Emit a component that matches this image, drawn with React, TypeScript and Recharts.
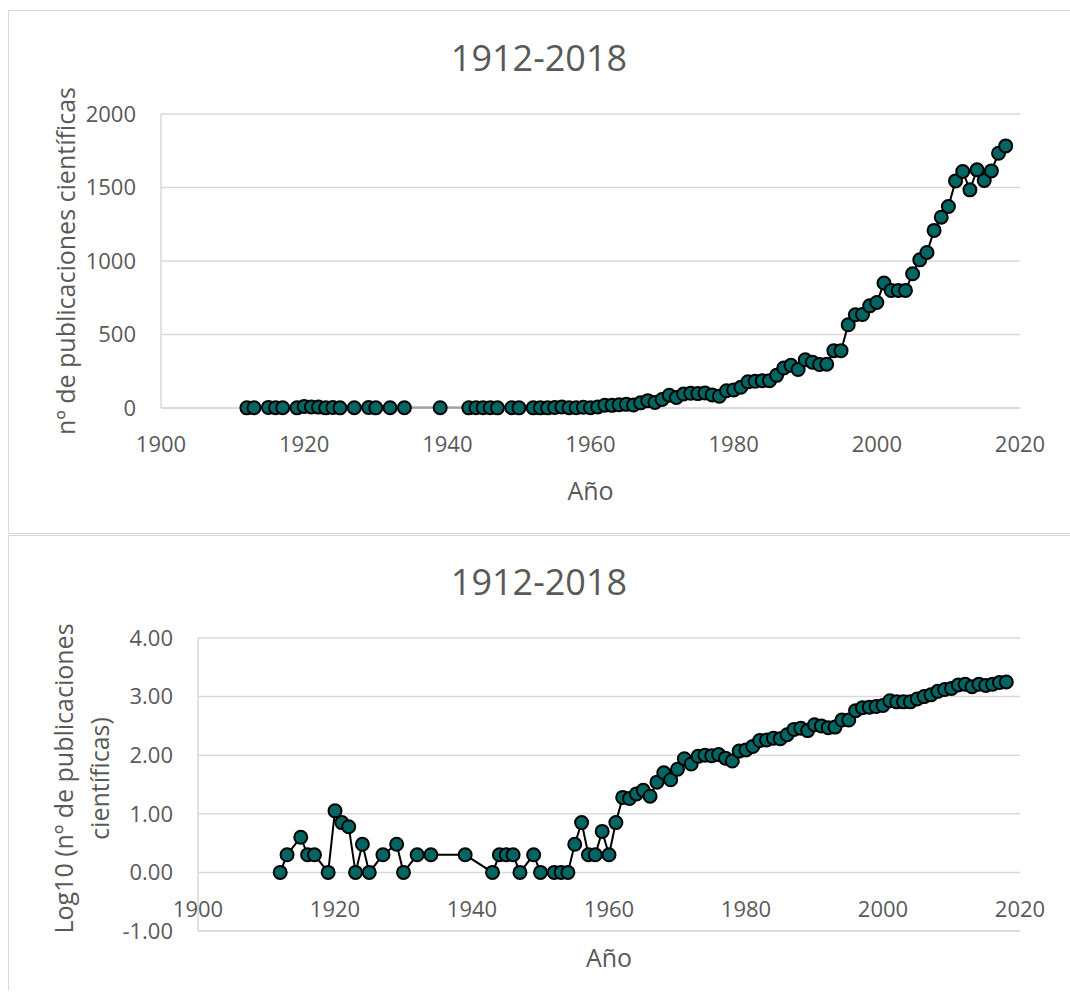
import React, { useLayoutEffect } from 'react';
import { LineChart, Line, XAxis, YAxis, CartesianGrid, Label } from 'recharts';

// años con publicaciones (1951 y huecos de los años 30 no tienen dato)
const years = [
  1912, 1913, 1915, 1916, 1917, 1919, 1920, 1921, 1922, 1923, 1924, 1925, 1927, 1929, 1930,
  1932, 1934, 1939, 1943, 1944, 1945, 1946, 1947, 1949, 1950, 1952, 1953, 1954, 1955, 1956,
  1957, 1958, 1959, 1960, 1961, 1962, 1963, 1964, 1965, 1966, 1967, 1968, 1969, 1970, 1971,
  1972, 1973, 1974, 1975, 1976, 1977, 1978, 1979, 1980, 1981, 1982, 1983, 1984, 1985, 1986,
  1987, 1988, 1989, 1990, 1991, 1992, 1993, 1994, 1995, 1996, 1997, 1998, 1999, 2000, 2001,
  2002, 2003, 2004, 2005, 2006, 2007, 2008, 2009, 2010, 2011, 2012, 2013, 2014, 2015, 2016,
  2017, 2018,
];

const counts = [
  1, 2, 4, 2, 2, 1, 11, 7, 6, 1, 3, 1, 2, 3, 1,
  2, 2, 2, 1, 2, 2, 2, 1, 2, 1, 1, 1, 1, 3, 7,
  2, 2, 5, 2, 7, 19, 18, 22, 25, 20, 35, 50, 38, 58, 87,
  71, 95, 100, 98, 102, 89, 80, 117, 123, 141, 178, 182, 186, 186, 222,
  272, 290, 262, 328, 312, 296, 298, 390, 390, 566, 634, 636, 695, 718, 850,
  800, 800, 800, 913, 1008, 1058, 1208, 1298, 1371, 1545, 1609, 1484, 1620, 1548, 1613,
  1733, 1783,
];

const logCounts = [
  0, 0.3, 0.6, 0.3, 0.3, 0, 1.05, 0.85, 0.78, 0, 0.48, 0, 0.3, 0.48, 0,
  0.3, 0.3, 0.3, 0, 0.3, 0.3, 0.3, 0, 0.3, 0, 0, 0, 0, 0.48, 0.85,
  0.3, 0.3, 0.7, 0.3, 0.85, 1.28, 1.26, 1.34, 1.4, 1.3, 1.54, 1.7, 1.58, 1.76, 1.94,
  1.85, 1.98, 2.0, 1.99, 2.01, 1.95, 1.9, 2.07, 2.09, 2.15, 2.25, 2.26, 2.29, 2.28, 2.35,
  2.44, 2.46, 2.42, 2.52, 2.5, 2.47, 2.48, 2.6, 2.6, 2.76, 2.81, 2.82, 2.83, 2.85, 2.93,
  2.91, 2.91, 2.91, 2.96, 3.0, 3.03, 3.09, 3.12, 3.14, 3.2, 3.21, 3.17, 3.21, 3.19, 3.21,
  3.24, 3.25,
];

const xTicks = [1900, 1920, 1940, 1960, 1980, 2000, 2020];
const countTicks = [0, 500, 1000, 1500, 2000];
const logTicks = [-1, 0, 1, 2, 3, 4];

const FONT = '"Segoe UI", "Open Sans", "Noto Sans", sans-serif';
const GREY = '#595959';
const TEAL = '#006664';
const LINE_GREY = '#d9d9d9';

const countData = years.map((year, i) => ({ year, value: counts[i] }));
const logData = years.map((year, i) => ({ year, value: logCounts[i] }));

const Marker = (props: any) => {
  const { cx, cy } = props;
  if (cx == null || cy == null) return null;
  return <circle cx={cx} cy={cy} r={6.5} fill={TEAL} stroke="#000" strokeWidth={2} />;
};

const tickStyle = { fill: GREY, fontSize: 22, fontFamily: FONT };

// etiqueta del eje X dibujada por encima de la línea del eje (como en Excel con -1 abajo)
const RaisedTick = (props: any) => (
  <text
    x={props.x}
    y={props.y - 23}
    textAnchor="middle"
    dominantBaseline="central"
    fill={GREY}
    fontSize={22}
    fontFamily={FONT}
  >
    {props.payload.value}
  </text>
);

const xTitle = (dy: number) => (props: any) => {
  const vb = props.viewBox;
  return (
    <text
      x={vb.x + vb.width / 2}
      y={vb.y + dy}
      textAnchor="middle"
      dominantBaseline="central"
      fill={GREY}
      fontSize={25}
      fontFamily={FONT}
    >
      Año
    </text>
  );
};

const yTitle = (lines: string[], xs: number[], shift: number) => (props: any) => {
  const vb = props.viewBox;
  const cy = vb.y + vb.height / 2 + shift;
  return (
    <g>
      {lines.map((t, i) => (
        <text
          key={i}
          x={xs[i]}
          y={cy}
          transform={`rotate(-90 ${xs[i]} ${cy})`}
          textAnchor="middle"
          dominantBaseline="central"
          fill={GREY}
          fontSize={25}
          fontFamily={FONT}
        >
          {t}
        </text>
      ))}
    </g>
  );
};

const titleStyle: React.CSSProperties = {
  position: 'absolute',
  left: 0,
  width: 1062,
  textAlign: 'center',
  fontFamily: FONT,
  fontSize: 36,
  lineHeight: '40px',
  color: GREY,
};

export default function App() {
  // la captura es de 1070 px justos: sin margen del body ni barras de scroll
  useLayoutEffect(() => {
    document.body.style.margin = '0';
    document.documentElement.style.overflow = 'hidden';
  }, []);

  return (
    <div style={{ position: 'relative', marginLeft: 8, marginTop: 10, width: 1062, height: 980, background: '#fff' }}>
      <div
        style={{
          position: 'absolute', left: 0, top: 0, width: 1062, height: 524, boxSizing: 'border-box',
          borderTop: `1px solid ${LINE_GREY}`, borderLeft: `1px solid ${LINE_GREY}`, borderBottom: `1px solid ${LINE_GREY}`,
        }}
      />
      <div
        style={{
          position: 'absolute', left: 0, top: 525, width: 1062, height: 455, boxSizing: 'border-box',
          borderTop: `1px solid ${LINE_GREY}`, borderLeft: `1px solid ${LINE_GREY}`,
        }}
      />
      <div style={{ ...titleStyle, top: 28 }}>1912-2018</div>
      <div style={{ ...titleStyle, top: 552 }}>1912-2018</div>

      <div style={{ position: 'absolute', left: 0, top: 0 }}>
        <LineChart width={1062} height={524} data={countData} margin={{ top: 104, right: 50, bottom: 0, left: 0 }}>
          <CartesianGrid vertical={false} stroke={LINE_GREY} strokeWidth={1.5} />
          <XAxis
            dataKey="year"
            type="number"
            domain={[1900, 2020]}
            ticks={xTicks}
            height={126}
            axisLine={{ stroke: LINE_GREY, strokeWidth: 1.5 }}
            tickLine={false}
            tickSize={0}
            tickMargin={28}
            tick={tickStyle}
          >
            <Label content={xTitle(82)} />
          </XAxis>
          <YAxis
            type="number"
            domain={[0, 2000]}
            ticks={countTicks}
            width={153}
            axisLine={{ stroke: LINE_GREY, strokeWidth: 1.5 }}
            tickLine={false}
            tickSize={0}
            tickMargin={25}
            tick={tickStyle}
          >
            <Label content={yTitle(['nº de publicaciones científicas'], [57], 0)} />
          </YAxis>
          <Line
            type="linear"
            dataKey="value"
            stroke="#000"
            strokeWidth={2}
            dot={<Marker />}
            activeDot={false}
            isAnimationActive={false}
          />
        </LineChart>
      </div>

      <div style={{ position: 'absolute', left: 0, top: 525 }}>
        <LineChart width={1062} height={450} data={logData} margin={{ top: 103, right: 50, bottom: 0, left: 0 }}>
          <CartesianGrid vertical={false} stroke={LINE_GREY} strokeWidth={1.5} />
          <XAxis
            dataKey="year"
            type="number"
            domain={[1900, 2020]}
            ticks={xTicks}
            height={54}
            axisLine={{ stroke: LINE_GREY, strokeWidth: 1.5 }}
            tickLine={false}
            tickSize={0}
            tickMargin={0}
            tick={<RaisedTick />}
          >
            <Label content={xTitle(26)} />
          </XAxis>
          <YAxis
            type="number"
            domain={[-1, 4]}
            ticks={logTicks}
            width={190}
            axisLine={{ stroke: LINE_GREY, strokeWidth: 1.5 }}
            tickLine={false}
            tickSize={0}
            tickMargin={25}
            tick={tickStyle}
            tickFormatter={(v: number) => v.toFixed(2)}
          >
            <Label content={yTitle(['Log10 (nº de publicaciones', 'científicas)'], [55, 91], -6)} />
          </YAxis>
          <Line
            type="linear"
            dataKey="value"
            stroke="#000"
            strokeWidth={2}
            dot={<Marker />}
            activeDot={false}
            isAnimationActive={false}
          />
        </LineChart>
      </div>
    </div>
  );
}
